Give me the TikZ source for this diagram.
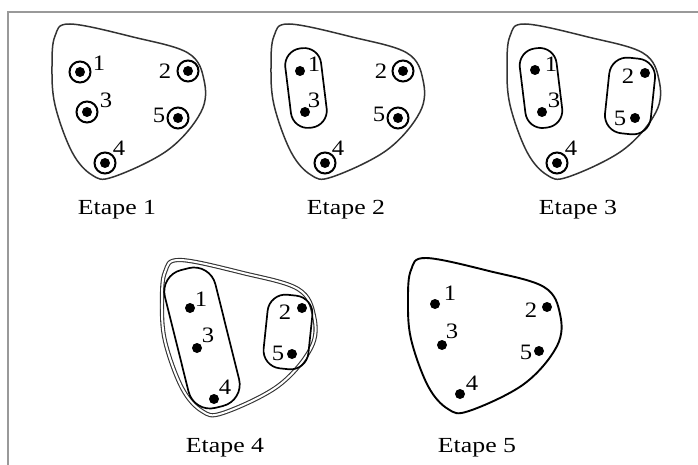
\documentclass[tikz,border=0pt]{standalone}
\usepackage{graphicx}
\usepackage{fontspec}
\setmainfont{Liberation Serif}
\usetikzlibrary{calc}
\tikzset{
  blob/.style={line width=1.5pt, black!80},
  blobthick/.style={line width=1.9pt, black},
  blobdouble/.style={line width=1.1pt, black!80, double=white, double distance=2pt},
  pt/.style={circle, fill=black, inner sep=0pt, minimum size=10pt},
  ring/.style={circle, draw=black, line width=2pt, inner sep=0pt, minimum size=21pt},
  oval/.style={draw=black, line width=1.7pt, inner sep=0pt},
  num/.style={inner sep=0pt, font=\fontsize{22}{26}\selectfont},
  captext/.style={inner sep=0pt, anchor=base, font=\fontsize{21.5}{26}\selectfont},
  frame/.style={line width=2pt, black!40}
}
\newcommand\blobshape{plot[smooth cycle, tension=0.6] coordinates {(55,36) (70,24) (133,37) (188,53) (204,80) (201,112) (168,150) (113,177) (92,175) (72,152) (55,105) (52,66)}}
\newcommand\sx[1]{\scalebox{1.12}[1]{#1}}
\newcommand\sxc[1]{\scalebox{1.2}[1]{#1}}
\begin{document}
\begin{tikzpicture}[x=1pt,y=-1pt]
\useasboundingbox (0,0) rectangle (698,465);
\coordinate (fb) at (7.5,465);
\coordinate (fc) at (7.5,12.5);
\coordinate (fr) at (698,12.5);
\draw[frame] (fb) -- (fc) -- (fr);

% ---------- Etape 1
\begin{scope}[shift={(0,0)}]
  \draw[blob] \blobshape;
\end{scope}
\node[pt] (a1) at (80,72) {};  \node[ring] (ra1) at (a1) {};
\node[pt] (a3) at (87,112) {}; \node[ring] (ra3) at (a3) {};
\node[pt] (a4) at (105,163) {};\node[ring] (ra4) at (a4) {};
\node[pt] (a2) at (188,71) {}; \node[ring] (ra2) at (a2) {};
\node[pt] (a5) at (178,118) {};\node[ring] (ra5) at (a5) {};
\node[num] (la1) at (99,63) {\sx{1}};
\node[num] (la3) at (106,100) {\sx{3}};
\node[num] (la4) at (119,148) {\sx{4}};
\node[num] (la2) at (165,71) {\sx{2}};
\node[num] (la5) at (159,115) {\sx{5}};
\node[captext] (ea) at (117,214) {\sxc{Etape 1}};

% ---------- Etape 2
\begin{scope}[shift={(219,0)}]
  \draw[blob] \blobshape;
\end{scope}
\node[oval, minimum width=36pt, minimum height=80pt, rounded corners=17pt, rotate=7] (ob13) at (306,88) {};
\node[pt] (b1) at (300,71) {};
\node[pt] (b3) at (305,112) {};
\node[pt] (b4) at (325,163) {};\node[ring] (rb4) at (b4) {};
\node[pt] (b2) at (403,71) {}; \node[ring] (rb2) at (b2) {};
\node[pt] (b5) at (398,118) {};\node[ring] (rb5) at (b5) {};
\node[num] (lb1) at (314,64) {\sx{1}};
\node[num] (lb3) at (314,100) {\sx{3}};
\node[num] (lb4) at (338,148) {\sx{4}};
\node[num] (lb2) at (381,71) {\sx{2}};
\node[num] (lb5) at (379,114) {\sx{5}};
\node[captext] (eb) at (346,214) {\sxc{Etape 2}};

% ---------- Etape 3
\begin{scope}[shift={(455,0)}]
  \draw[blob] \blobshape;
\end{scope}
\node[oval, minimum width=37pt, minimum height=80pt, rounded corners=17pt, rotate=7] (oc13) at (541,88) {};
\node[oval, minimum width=46pt, minimum height=76pt, rounded corners=18pt, rotate=-6] (oc25) at (630,96) {};
\node[pt] (c1) at (535,70) {};
\node[pt] (c3) at (542,112) {};
\node[pt] (c4) at (557,163) {};\node[ring] (rc4) at (c4) {};
\node[pt] (c2) at (645,73) {};
\node[pt] (c5) at (635,118) {};
\node[num] (lc1) at (551,64) {\sx{1}};
\node[num] (lc3) at (554,100) {\sx{3}};
\node[num] (lc4) at (571,148) {\sx{4}};
\node[num] (lc2) at (628,76) {\sx{2}};
\node[num] (lc5) at (620,118) {\sx{5}};
\node[captext] (ec) at (578,214) {\sxc{Etape 3}};

% ---------- Etape 4
\begin{scope}[shift={(110,236)}]
  \draw[blobdouble] \blobshape;
\end{scope}
\node[oval, minimum width=52pt, minimum height=142pt, rounded corners=22pt, rotate=14] (od134) at (202,338) {};
\node[oval, minimum width=45pt, minimum height=74pt, rounded corners=18pt, rotate=-6] (od25) at (288,332) {};
\node[pt] (d1) at (190,308) {};
\node[pt] (d3) at (197,348) {};
\node[pt] (d4) at (214,399) {};
\node[pt] (d2) at (302,308) {};
\node[pt] (d5) at (292,354) {};
\node[num] (ld1) at (201,299) {\sx{1}};
\node[num] (ld3) at (208,335) {\sx{3}};
\node[num] (ld4) at (225,387) {\sx{4}};
\node[num] (ld2) at (285,312) {\sx{2}};
\node[num] (ld5) at (278,353) {\sx{5}};
\node[captext] (ed) at (225,452) {\sxc{Etape 4}};

% ---------- Etape 5
\begin{scope}[shift={(356,234)}]
  \draw[blobthick] \blobshape;
\end{scope}
\node[pt] (e1) at (435,304) {};
\node[pt] (e3) at (442,345) {};
\node[pt] (e4) at (460,394) {};
\node[pt] (e2) at (547,307) {};
\node[pt] (e5) at (539,351) {};
\node[num] (le1) at (450,293) {\sx{1}};
\node[num] (le3) at (452,331) {\sx{3}};
\node[num] (le4) at (472,383) {\sx{4}};
\node[num] (le2) at (531,310) {\sx{2}};
\node[num] (le5) at (526,352) {\sx{5}};
\node[captext] (ee) at (477,452) {\sxc{Etape 5}};
\end{tikzpicture}
\end{document}
